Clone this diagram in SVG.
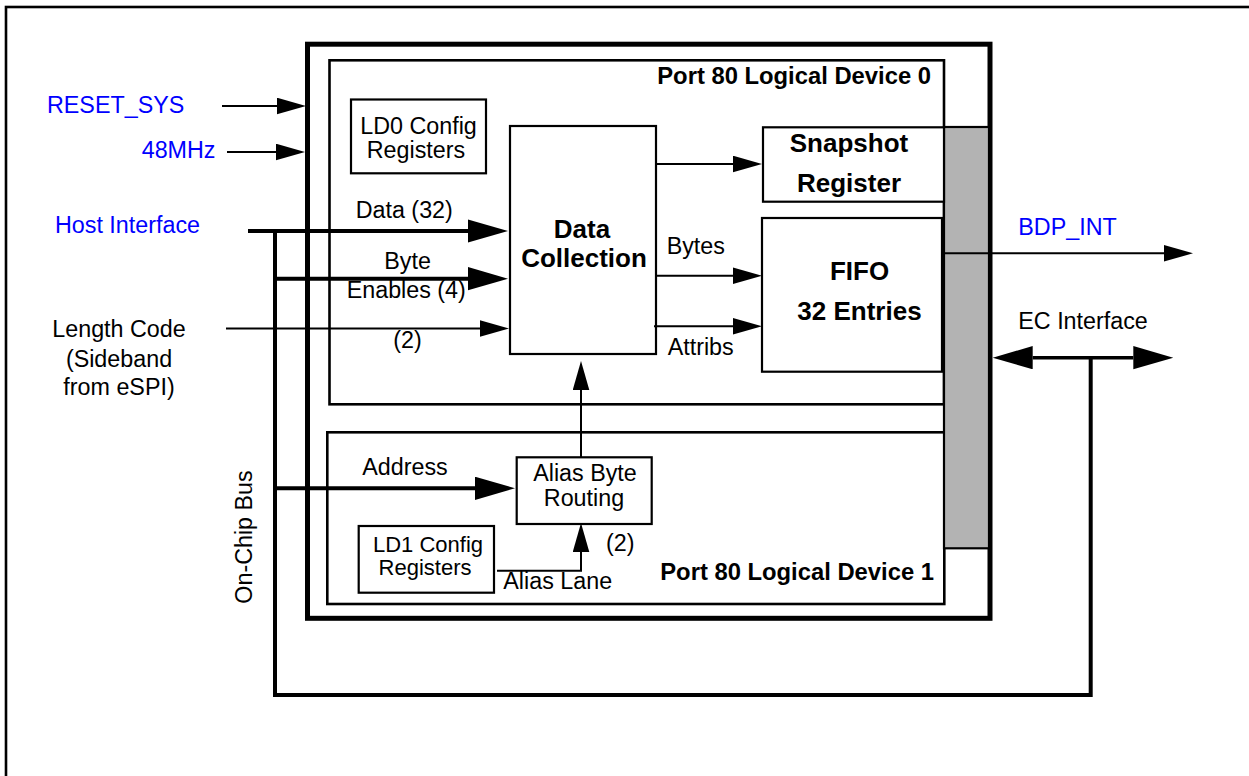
<svg xmlns="http://www.w3.org/2000/svg" width="1249" height="776" viewBox="0 0 1249 776">
<defs>
<style>
text{font-family:"Liberation Sans",Arial,sans-serif;font-size:23.3px;fill:#000}
.b{font-weight:bold;font-size:26px}
.pb{font-weight:bold;font-size:23.8px}
.sm{font-size:22px}
.blue{fill:#0000ff}
.box{fill:#fff;stroke:#000;stroke-width:2.2}
.ld{fill:none;stroke:#000;stroke-width:2.6}
.thin{fill:none;stroke:#000;stroke-width:2}
.thick{fill:none;stroke:#000;stroke-width:4}
.mid{fill:none;stroke:#000;stroke-width:3.4}
</style>
<marker id="ah" markerUnits="userSpaceOnUse" markerWidth="30" markerHeight="17" refX="0" refY="8.3" orient="auto"><path d="M0,0 L29,8.3 L0,16.6 z" fill="#000"/></marker>
<marker id="ahb" markerUnits="userSpaceOnUse" markerWidth="41" markerHeight="24" refX="0" refY="11.6" orient="auto-start-reverse"><path d="M0,0 L40,11.6 L0,23.2 z" fill="#000"/></marker>
</defs>
<rect id="frame" x="6" y="7" width="1300" height="820" fill="#fff" stroke="#000" stroke-width="2.6"/>

<g id="chip"><rect x="307.5" y="44.2" width="682.5" height="574.1" fill="#fff" stroke="#000" stroke-width="5"/></g>

<g id="ld0"><rect class="ld" x="329.5" y="60.3" width="614.5" height="344"/>
<text class="pb" x="931" y="84" text-anchor="end">Port 80 Logical Device 0</text></g>

<g id="ld1"><rect class="ld" x="327.3" y="432.3" width="617" height="171.7"/>
<text class="pb" x="934" y="580" text-anchor="end">Port 80 Logical Device 1</text></g>

<g id="graybar"><rect x="944" y="127" width="45" height="421.3" fill="#b3b3b3" stroke="#000" stroke-width="2.2"/></g>

<g id="ld0cfg"><rect class="box" x="351" y="99.5" width="135" height="73.8"/>
<text x="418.5" y="134" text-anchor="middle">LD0 Config</text>
<text x="416" y="158" text-anchor="middle">Registers</text></g>

<g id="datacollection"><rect class="box" x="510" y="126" width="146" height="228"/>
<text class="b" x="582" y="238.3" text-anchor="middle">Data</text>
<text class="b" x="584" y="266.7" text-anchor="middle">Collection</text></g>

<g id="snapshot"><rect class="box" x="763" y="127.3" width="181" height="74.4"/>
<text class="b" x="849" y="152.3" text-anchor="middle">Snapshot</text>
<text class="b" x="849" y="191.7" text-anchor="middle">Register</text></g>

<g id="fifo"><rect class="box" x="762" y="218" width="180" height="153.7"/>
<text class="b" x="859.5" y="280" text-anchor="middle">FIFO</text>
<text class="b" x="859.5" y="320" text-anchor="middle">32 Entries</text></g>

<g id="aliasbyte"><rect class="box" x="516.7" y="457.3" width="135" height="66.7"/>
<text x="585" y="480.7" text-anchor="middle">Alias Byte</text>
<text x="584" y="506" text-anchor="middle">Routing</text></g>

<g id="ld1cfg"><rect class="box" x="358.7" y="526" width="135.3" height="66.7"/>
<text class="sm" x="428" y="551.7" text-anchor="middle">LD1 Config</text>
<text class="sm" x="425" y="574.5" text-anchor="middle">Registers</text></g>

<g id="connectors">
<line class="thin" x1="222" y1="106" x2="277" y2="106" marker-end="url(#ah)"/>
<line class="thin" x1="227" y1="152" x2="276" y2="152" marker-end="url(#ah)"/>
<line class="thick" x1="248" y1="231" x2="468" y2="231" marker-end="url(#ahb)"/>
<line class="thick" x1="275" y1="278.7" x2="468" y2="278.7" marker-end="url(#ahb)"/>
<line class="thin" x1="226" y1="328.5" x2="480" y2="328.5" marker-end="url(#ah)"/>
<polyline class="thick" points="275,229 275,695 1090.7,695 1090.7,357.7"/>
<line class="thick" x1="275" y1="488.3" x2="475" y2="488.3" marker-end="url(#ahb)"/>
<line class="thin" x1="656" y1="164" x2="733" y2="164" marker-end="url(#ah)"/>
<line class="thin" x1="656" y1="275.7" x2="733" y2="275.7" marker-end="url(#ah)"/>
<line class="thin" x1="654" y1="326.3" x2="733" y2="326.3" marker-end="url(#ah)"/>
<line class="thin" x1="581" y1="457.3" x2="581" y2="390" marker-end="url(#ah)"/>
<polyline class="thin" points="497,570.7 581,570.7 581,552" marker-end="url(#ah)"/>
<line class="thin" x1="944" y1="253.3" x2="1164" y2="253.3" marker-end="url(#ah)"/>
<line class="mid" x1="1032.7" y1="357.7" x2="1133.3" y2="357.7" marker-start="url(#ahb)" marker-end="url(#ahb)"/>
</g>

<g id="labels">
<text class="blue" x="47" y="113">RESET_SYS</text>
<text class="blue" x="141.7" y="158">48MHz</text>
<text class="blue" x="55" y="233">Host Interface</text>
<text x="119" y="337.3" text-anchor="middle">Length Code</text>
<text x="119" y="366.7" text-anchor="middle">(Sideband</text>
<text x="119" y="395" text-anchor="middle">from eSPI)</text>
<text transform="translate(252,537) rotate(-90)" text-anchor="middle">On-Chip Bus</text>
<text x="355.7" y="218.3">Data (32)</text>
<text x="384.3" y="269">Byte</text>
<text x="346.7" y="298.3">Enables (4)</text>
<text x="393.3" y="348.3">(2)</text>
<text x="666.7" y="254">Bytes</text>
<text x="667.7" y="355">Attribs</text>
<text class="blue" x="1018.3" y="235">BDP_INT</text>
<text x="1018.3" y="329.3">EC Interface</text>
<text x="362.3" y="475">Address</text>
<text x="503.3" y="589.3">Alias Lane</text>
<text x="606" y="550.7">(2)</text>
</g>
</svg>
